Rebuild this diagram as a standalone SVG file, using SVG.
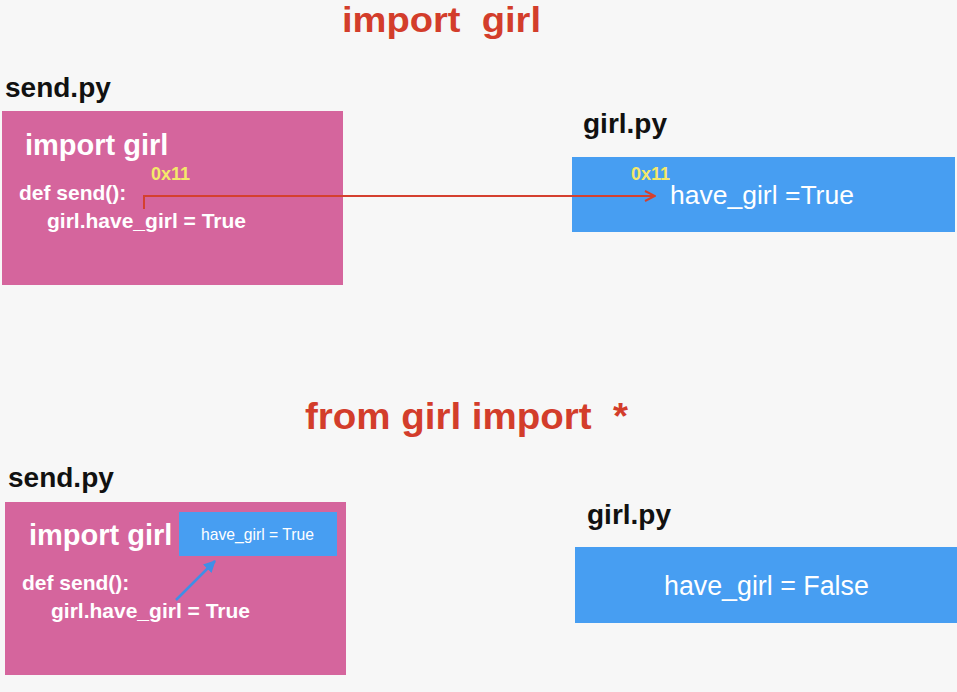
<svg xmlns="http://www.w3.org/2000/svg" width="957" height="692" viewBox="0 0 957 692">
<style>
text{font-family:"Liberation Sans",Arial,sans-serif}
.title{font-size:35px;font-weight:bold;fill:#d33d2b;white-space:pre}
.file{font-size:28px;font-weight:bold;fill:#111}
.pink{fill:#d5659d}
.blue{fill:#479ef2}
.code{font-size:21px;font-weight:bold;fill:#fff}
.imp{font-size:29px;font-weight:bold;fill:#fff}
.addr{font-size:18px;font-weight:bold;fill:#f4e86a}
.val{font-size:26.5px;fill:#fff}
</style>
<defs>
<marker id="redArrow" viewBox="0 0 12 12" refX="11" refY="6" markerWidth="12" markerHeight="12" markerUnits="userSpaceOnUse" orient="auto">
<path d="M1,1 L11,6 L1,11" fill="none" stroke="#d5402f" stroke-width="2"/>
</marker>
<marker id="blueArrow" viewBox="0 0 12 12" refX="11" refY="6" markerWidth="12" markerHeight="12" markerUnits="userSpaceOnUse" orient="auto">
<path d="M0,0 L12,6 L0,12 Z" fill="#3f8fe6"/>
</marker>
</defs>
<rect width="957" height="692" fill="#f7f7f7"/>

<text class="title" x="342" y="32" textLength="199" lengthAdjust="spacingAndGlyphs" xml:space="preserve">import  girl</text>
<text class="title" x="305" y="429" style="font-size:37px" textLength="323" lengthAdjust="spacingAndGlyphs" xml:space="preserve">from girl import  *</text>

<g id="send-top">
<text class="file" x="5" y="97">send.py</text>
<rect class="pink" x="2" y="111" width="341" height="174"/>
<text class="imp" x="25" y="155">import girl</text>
<text class="addr" x="151" y="180">0x11</text>
<text class="code" x="19" y="200">def send():</text>
<text class="code" x="47" y="228">girl.have_girl = True</text>
</g>

<g id="girl-top">
<text class="file" x="583" y="133">girl.py</text>
<rect class="blue" x="572" y="157" width="383" height="75"/>
<text class="addr" x="631" y="180">0x11</text>
<text class="val" x="670" y="204">have_girl =True</text>
</g>

<g id="send-bottom">
<text class="file" x="8" y="487">send.py</text>
<rect class="pink" x="5" y="502" width="341" height="173"/>
<text class="imp" x="29" y="545">import girl</text>
<text class="code" x="22" y="590">def send():</text>
<text class="code" x="51" y="618">girl.have_girl = True</text>
</g>

<g id="copy-bottom">
<rect class="blue" x="179" y="512" width="158" height="44"/>
<text x="201" y="540" font-size="15.7" fill="#fff">have_girl = True</text>
</g>

<g id="girl-bottom">
<text class="file" x="587" y="524">girl.py</text>
<rect class="blue" x="575" y="547" width="382" height="76"/>
<text class="val" x="664" y="595" style="font-size:26.8px">have_girl = False</text>
</g>

<g id="connectors">
<path d="M144,209 V196 H655" fill="none" stroke="#d5402f" stroke-width="2" marker-end="url(#redArrow)"/>
<path d="M176,600 L215,561" fill="none" stroke="#3f8fe6" stroke-width="2.5" marker-end="url(#blueArrow)"/>
</g>
</svg>
